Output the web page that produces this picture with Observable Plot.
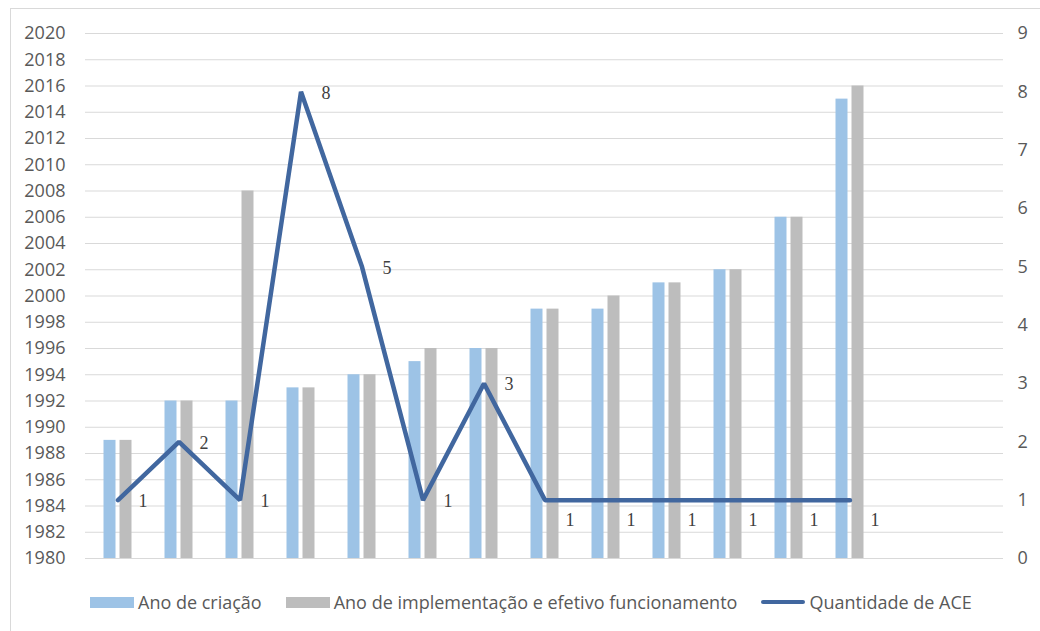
<!DOCTYPE html>
<html>
<head>
<meta charset="utf-8">
<script src="https://cdn.jsdelivr.net/npm/d3@7"></script>
<script src="https://cdn.jsdelivr.net/npm/@observablehq/plot@0.6"></script>
<style>
  html, body { margin: 0; padding: 0; background: #fff; width: 1040px; height: 631px; overflow: hidden; }
  #frame { position: absolute; left: 10px; top: 8px; width: 1100px; height: 700px; border: 1px solid #D9D9D9; box-sizing: border-box; }
  #chart { position: absolute; left: 0; top: 0; }
  #legend { position: absolute; left: 90px; top: 590px; display: flex; align-items: center; font-family: "Open Sans", sans-serif; font-size: 18px; color: #595959; white-space: nowrap; }
  .item { display: flex; align-items: center; margin-right: 24px; }
  .sw { width: 44px; height: 11px; margin-right: 4px; }
  .ln { width: 44px; height: 4px; border-radius: 2px; margin-right: 4px; }
</style>
</head>
<body>
<div id="frame"></div>
<div id="chart"></div>
<div id="legend"></div>
<script>
// ---- data ----
const slots = ["1","2","3","4","5","6","7","8","9","10","11","12","13","14","15"];
const anoCriacao = [1989, 1992, 1992, 1993, 1994, 1995, 1996, 1999, 1999, 2001, 2002, 2006, 2015];
const anoImplementacao = [1989, 1992, 2008, 1993, 1994, 1996, 1996, 1999, 2000, 2001, 2002, 2006, 2016];
const quantidadeACE = [1, 2, 1, 8, 5, 1, 3, 1, 1, 1, 1, 1, 1];
const leftTicks = d3.range(1980, 2021, 2);
const rightTicks = d3.range(0, 10, 1);
const seriesNames = ["Ano de criação", "Ano de implementação e efetivo funcionamento", "Quantidade de ACE"];
const colors = ["#9DC3E6", "#BDBDBD", "#41679F"];

// right axis (0..9) mapped onto left axis (1980..2020)
const toLeft = c => 1980 + c * 40 / 9;
const fromLeft = v => (v - 1980) * 9 / 40;

const rows = anoCriacao.map((v, i) => ({
  slot: slots[i], criacao: v, impl: anoImplementacao[i], q: quantidadeACE[i], i
}));

const chart = Plot.plot({
  width: 1040,
  height: 580,
  marginTop: 33,
  marginBottom: 22,
  marginLeft: 85,
  marginRight: 37,
  style: { fontFamily: "'Open Sans', sans-serif", fontSize: "18px", color: "#595959", background: "none" },
  x: { type: "band", domain: slots, padding: 0, axis: null },
  y: { domain: [1980, 2020], axis: null },
  marks: [
    Plot.ruleY(leftTicks, { stroke: "#D9D9D9", strokeWidth: 1 }),
    Plot.barY(rows, { x: "slot", y1: 1980, y2: "criacao", fill: colors[0], insetLeft: 16.5, insetRight: 32.5 }),
    Plot.barY(rows, { x: "slot", y1: 1980, y2: "impl", fill: colors[1], insetLeft: 32.5, insetRight: 16.5 }),
    Plot.line(rows, { x: "slot", y: d => toLeft(d.q), stroke: colors[2], strokeWidth: 4.5, strokeLinejoin: "miter" }),
    Plot.text(rows.filter(d => d.i < 7), { x: "slot", y: d => toLeft(d.q), text: d => String(d.q), dx: 25, dy: 1, fontFamily: "'Liberation Serif', serif", fontSize: 18, fill: "#404040" }),
    Plot.text(rows.filter(d => d.i >= 7), { x: "slot", y: d => toLeft(d.q), text: d => String(d.q), dx: 25, dy: 20, fontFamily: "'Liberation Serif', serif", fontSize: 18, fill: "#404040" }),
    Plot.axisY({ anchor: "left", ticks: leftTicks, tickFormat: d => String(d), tickSize: 0, tickPadding: 20, fill: "#595959", fontSize: 18 }),
    Plot.axisY({ anchor: "right", ticks: rightTicks.map(toLeft), tickFormat: v => String(Math.round(fromLeft(v))), tickSize: 0, tickPadding: 14, fill: "#595959", fontSize: 18 })
  ]
});
document.getElementById("chart").appendChild(chart);

const legend = document.getElementById("legend");
seriesNames.forEach((name, k) => {
  const item = document.createElement("div");
  item.className = "item";
  const sw = document.createElement("div");
  sw.className = k === 2 ? "ln" : "sw";
  sw.style.background = colors[k];
  const t = document.createElement("span");
  t.textContent = name;
  item.appendChild(sw);
  item.appendChild(t);
  legend.appendChild(item);
});
</script>
</body>
</html>
